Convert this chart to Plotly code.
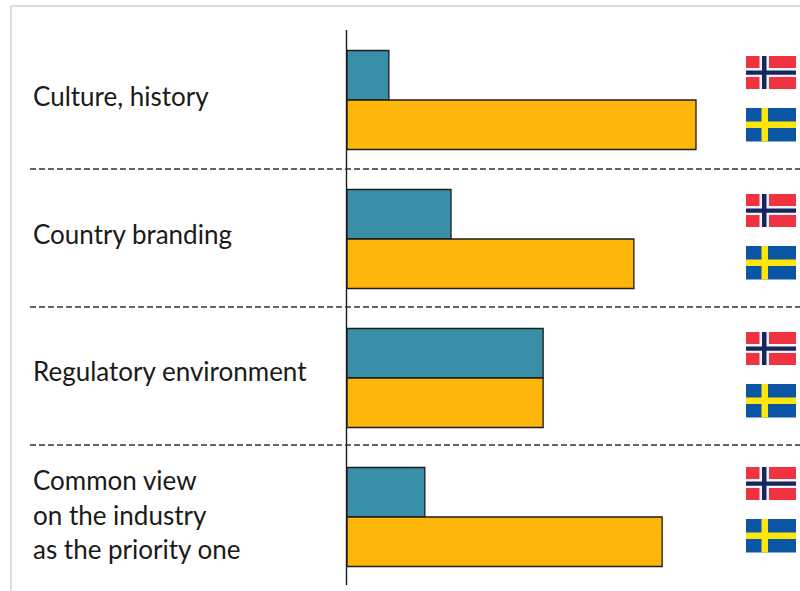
import plotly.graph_objects as go

# Index values, longest bar = 100
categories = ["Culture, history", "Country branding", "Regulatory environment", "Common view on the industry as the priority one"]
norway = [12, 29.8, 56.2, 22.3]
sweden = [100, 82.2, 56.2, 90.3]
row_labels = [
    ["Culture, history"],
    ["Country branding"],
    ["Regulatory environment"],
    ["Common view", "on the industry", "as the priority one"],
]

W, H = 800, 591
TEAL = "#3A8FA8"
AMBER = "#FFB60A"
EDGE = "#1c1c1c"
ROW_PX = 139
BASE_X = 347
PX_PER_UNIT = 3.49
FIRST_ROW_Y = 100
BAR = 49.5 / ROW_PX


def px(x):
    return x / W


def py(y):
    return 1 - y / H


def rect(x0, y0, x1, y1, color):
    return dict(type="rect", xref="paper", yref="paper", x0=px(x0), x1=px(x1),
                y0=py(y0), y1=py(y1), fillcolor=color, line=dict(width=0), layer="above")


def line(x0, y0, x1, y1, color, width, dash="solid"):
    return dict(type="line", xref="paper", yref="paper", x0=px(x0), x1=px(x1),
                y0=py(y0), y1=py(y1), line=dict(color=color, width=width, dash=dash))


rows = list(range(len(categories)))
fig = go.Figure()
fig.add_bar(name="Norway", orientation="h", x=norway, y=[r - BAR / 2 for r in rows], width=BAR,
            marker=dict(color=TEAL, line=dict(color=EDGE, width=1.3)), hoverinfo="x+name")
fig.add_bar(name="Sweden", orientation="h", x=sweden, y=[r + BAR / 2 for r in rows], width=BAR,
            marker=dict(color=AMBER, line=dict(color=EDGE, width=1.3)), hoverinfo="x+name")

shapes = [
    line(11, 6, W, 6, "#dddddd", 2),
    line(11, 6, 11, H, "#dddddd", 2),
    line(BASE_X - 0.5, 30, BASE_X - 0.5, 585, EDGE, 1.4),
]
for r in rows[:-1]:
    y = 169 + r * 138
    shapes.append(line(30, y, W, y, "#333333", 1.3, "6px,3px"))

# Flags, one pair per row
flag_offsets = [0, 138, 276, 411]
for dy in flag_offsets:
    shapes += [
        rect(746, 56 + dy, 796, 89 + dy, "#EF3340"),
        rect(759.5, 56 + dy, 769, 89 + dy, "#F4F4F8"),
        rect(746, 68 + dy, 796, 77 + dy, "#F4F4F8"),
        rect(762, 56 + dy, 766.5, 89 + dy, "#14285F"),
        rect(746, 70.5 + dy, 796, 74.8 + dy, "#14285F"),
        rect(746, 108 + dy, 796, 141.5 + dy, "#0B56A4"),
        rect(761.5, 108 + dy, 768, 141.5 + dy, "#FFE60A"),
        rect(746, 121.5 + dy, 796, 128 + dy, "#FFE60A"),
    ]

# Row captions, positioned line by line
label_y = [[96], [234], [371], [480, 515, 549]]
annotations = []
for lines, ys in zip(row_labels, label_y):
    for text, y in zip(lines, ys):
        annotations.append(dict(text=text, xref="paper", yref="paper", x=px(31), y=py(y),
                                xanchor="left", yanchor="middle", showarrow=False,
                                font=dict(family="Lato", size=26, color="#1a1a1a")))

fig.update_layout(
    width=W, height=H, margin=dict(l=0, r=0, t=0, b=0), showlegend=False,
    paper_bgcolor="white", plot_bgcolor="white", barmode="overlay",
    shapes=shapes, annotations=annotations,
    xaxis=dict(visible=False, domain=[0, 1], range=[-BASE_X / PX_PER_UNIT, (W - BASE_X) / PX_PER_UNIT]),
    yaxis=dict(visible=False, domain=[0, 1], range=[(H - FIRST_ROW_Y) / ROW_PX, -FIRST_ROW_Y / ROW_PX]),
)
fig.write_html("out.html", config=dict(displayModeBar=False))
